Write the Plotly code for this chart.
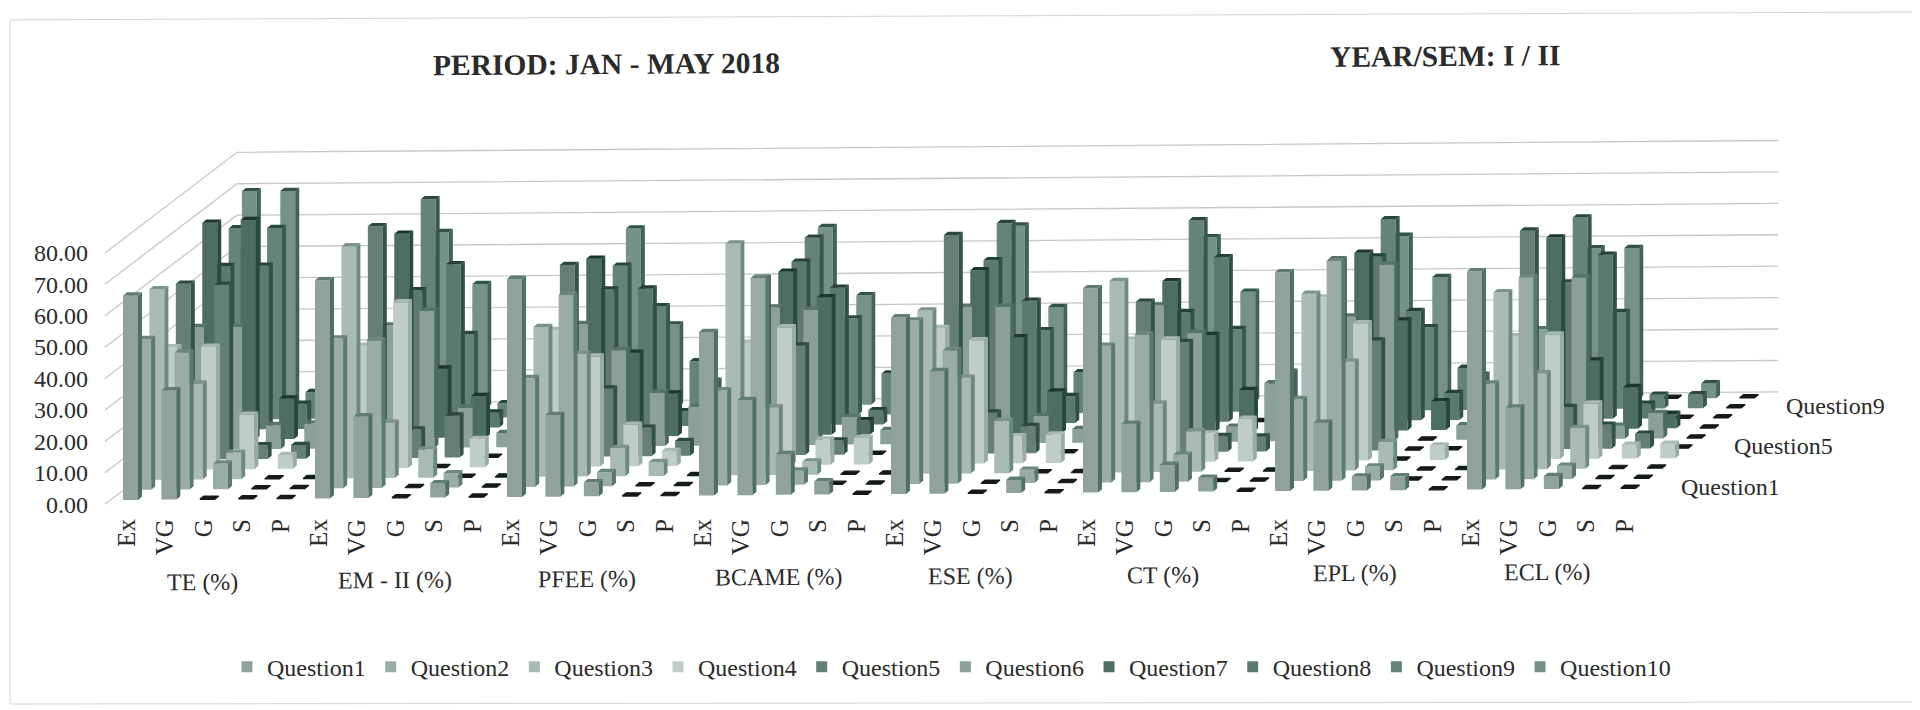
import plotly.graph_objects as go

QUESTIONS = [f"Question{n}" for n in range(1, 11)]
GRADES = ["Ex", "VG", "G", "S", "P"]
SUBJECTS = ["TE (%)", "EM - II (%)", "PFEE (%)", "BCAME (%)", "ESE (%)", "CT (%)", "EPL (%)", "ECL (%)"]
VALUE_TICKS = [0, 10, 20, 30, 40, 50, 60, 70, 80]

# each row: one grade, values for Question1 .. Question10
TE = [[65, 48, 60.6, 39, 56, 39, 69, 52, 60.8, 69.4],
      [34.8, 43.6, 30.5, 39, 55.6, 39, 69.8, 52, 60.8, 69.4],
      [0, 8.2, 8.4, 17.3, 4.4, 7.6, 12.9, 8, 8.5, 8],
      [0, 0, 0, 4.4, 4.4, 8, 4.4, 0, 4.4, 4.4],
      [0, 0, 0, 0, 0, 0, 0, 0, 0, 0]]
EM = [[69.4, 47.7, 73.8, 39, 73.8, 39, 65, 43.8, 69.6, 56],
      [26, 47, 17.6, 52.7, 9, 43.6, 22, 52, 26.6, 39.3],
      [0, 0, 9, 0, 13.4, 12.7, 13.2, 4.7, 4.5, 8],
      [4.5, 4.5, 0, 9, 0, 4.5, 4.4, 0, 4.4, 4.4],
      [0, 0, 0, 0, 0, 0, 0, 0, 0, 0]]
PFEE = [[69.4, 34.6, 47.7, 43.5, 61, 39, 56.6, 43.6, 48, 56.6],
        [26, 61, 39, 35, 21.6, 30.6, 26.6, 43.8, 35, 26],
        [4.5, 4.5, 9, 13.2, 9, 17, 13.5, 4.7, 17.4, 8],
        [0, 0, 4.4, 4.7, 4.7, 12.4, 4.4, 0, 4.4, 4.4],
        [0, 0, 0, 0, 0, 0, 0, 0, 0, 0]]
BCAME = [[52, 30.3, 73.8, 39, 56.4, 43.8, 52, 52, 56.4, 56.6],
         [30.3, 66, 21.6, 43.8, 34.8, 43, 43.8, 43.6, 30.6, 34.8],
         [13, 4.5, 4.2, 8, 4.5, 8.8, 4.5, 4.5, 13, 8],
         [4.2, 0, 0, 8.4, 0, 4.5, 4.4, 0, 4.4, 4.4],
         [0, 0, 0, 0, 0, 0, 0, 0, 0, 0]]
ESE = [[56.2, 52, 52, 43.2, 69.6, 43.5, 52, 52, 60.6, 56.6],
       [39, 42.4, 30.6, 39.2, 13, 43.5, 30.6, 39, 26.4, 30.6],
       [0, 0, 16.7, 8.6, 8.6, 8.6, 13.2, 8.6, 12.9, 8],
       [4.2, 4.2, 0, 9, 0, 4.4, 4.4, 0, 4.4, 4.4],
       [0, 0, 0, 0, 0, 0, 0, 0, 0, 0]]
CT = [[65, 43.5, 60.9, 39, 47.9, 43.5, 48, 35, 61, 52.4],
      [21.8, 47, 21.8, 39, 35, 34.7, 30.8, 52.4, 26.3, 35],
      [8.6, 8.6, 12.9, 9, 5, 4.7, 13.2, 0, 8, 9.4],
      [4.4, 0, 0, 13.6, 4.7, 18.5, 4.4, 0, 4.4, 4.4],
      [0, 0, 0, 0, 0, 0, 0, 0, 0, 0]]
EPL = [[69.6, 26, 56.4, 52, 60.9, 39.5, 56.6, 52.2, 60.9, 52.4],
       [21.6, 70, 34.7, 43.7, 35, 56, 35, 34.8, 26.4, 39.2],
       [4.4, 4.4, 9, 0, 0, 0, 9.2, 8.6, 13.4, 8],
       [4.4, 0, 0, 4.6, 0, 4.6, 4.4, 0, 4.4, 4.4],
       [0, 0, 0, 0, 0, 0, 0, 0, 0, 0]]
ECL = [[69.5, 30.5, 56.4, 39.2, 69.6, 35, 61, 43.5, 61, 48],
       [26, 64.3, 30.5, 39.6, 13.4, 51.4, 21.8, 52.2, 30.8, 48],
       [4.1, 4.2, 13, 17.6, 7.6, 4.1, 13.2, 4.7, 4.4, 0],
       [0, 0, 0, 4.4, 4.7, 8.1, 4.6, 0, 4.4, 4.7],
       [0, 0, 0, 4.6, 0, 0, 0, 0, 0, 0]]
ALL_SUBJECTS = [TE, EM, PFEE, BCAME, ESE, CT, EPL, ECL]

FRONT = ["#8fa29c", "#9aaca6", "#a9b9b4", "#c0ccc8", "#637f76", "#8ba099", "#4d6e64", "#5c7a70", "#64837a", "#75928a"]
SIDE = ["#4f6f66", "#5a7970", "#6b897f", "#98aca5", "#33524a", "#4b6b61", "#294840", "#325248", "#39594f", "#426258"]
TOP = ["#607d74", "#6a867d", "#7b948b", "#a8b8b3", "#2c4941", "#56746b", "#1b362f", "#254237", "#2a473e", "#335248"]
ZERO = "#141a18"

PAGE_W, PAGE_H = 1920, 710
OX, OY = 8, 8                         # the page's own margin round the figure
W, H = PAGE_W - OX, PAGE_H - OY
CAT_PX, VAL_PX = 38.4, 3.16           # pixels per category / per value unit
DX, DY = 0.344, 3.2                   # screen shift per series of depth
TILT, BASE = 0.094, 1.36              # scan tilt, floor offset
BW, BDX, BDY = 0.39, 0.104, 1.05      # bar width, bar depth offset
AX_L, AX_R, AX_B, AX_T = 95, 1900, 516, 100   # plot box on the page


def px(x):
    return (x - OX) / W


def py(y):
    return 1 - (y - OY) / H


def proj(i, k, v):
    return i + DX * k, v + BASE + DY * k + TILT * i


def poly(pts, xs, ys):
    for p in pts + pts[:1]:
        xs.append(p[0])
        ys.append(p[1])
    xs.append(None)
    ys.append(None)


fig = go.Figure()

# walls
gx, gy = [], []
for v in VALUE_TICKS:
    for c in [(-0.324, -0.425), (-0.324, 9.575), (39.81, 9.575)]:
        x, y = proj(c[0], c[1], v)
        gx.append(x)
        gy.append(y)
    gx.append(None)
    gy.append(None)
fig.add_trace(go.Scatter(x=gx, y=gy, mode="lines", line=dict(color="#c6c6c6", width=1.3),
                         hoverinfo="skip", showlegend=False))

for k in range(9, -1, -1):
    f, s, t, z = ([], []), ([], []), ([], []), ([], [])
    for g, rows in enumerate(ALL_SUBJECTS):
        for c, row in enumerate(rows):
            i = g * 5 + c
            v = row[k]
            x0, y0 = proj(i, k, 0)
            x1 = x0 + BW
            top_pts = [(x0, y0 + v), (x0 + BDX, y0 + v + BDY), (x1 + BDX, y0 + v + BDY), (x1, y0 + v)]
            if v == 0:
                poly(top_pts, *z)
                continue
            poly([(x0, y0), (x1, y0), (x1, y0 + v), (x0, y0 + v)], *f)
            poly([(x1, y0), (x1 + BDX, y0 + BDY), (x1 + BDX, y0 + v + BDY), (x1, y0 + v)], *s)
            poly(top_pts, *t)
    for pair, col, lw in ((f, FRONT[k], 0), (s, SIDE[k], 0), (t, TOP[k], 0), (z, ZERO, 1.2)):
        if pair[0]:
            fig.add_trace(go.Scatter(x=pair[0], y=pair[1], mode="lines", fill="toself", fillcolor=col,
                                     line=dict(width=lw, color=col), hoverinfo="skip", showlegend=False))

# legend entries
for k, q in enumerate(QUESTIONS):
    fig.add_trace(go.Scatter(x=[None], y=[None], mode="markers", name=q,
                             marker=dict(symbol="square", size=11, color=FRONT[k])))

FONT = "Liberation Serif"
TEXT = "#2b2b2b"
notes = []
for g, name in enumerate(SUBJECTS):
    notes.append(dict(text=name, x=g * 5 + 2.08, xref="x", y=py(585 - 1.45 * g), yref="paper",
                      xanchor="center", yanchor="middle",
                      showarrow=False, textangle=-0.4, font=dict(family=FONT, size=24, color=TEXT)))
for label, lx, ly in (("Question1", 1679, 490), ("Question5", 1732, 449), ("Question9", 1784, 408)):
    notes.append(dict(text=label, x=px(lx), xref="paper", y=py(ly), yref="paper",
                      xanchor="left", yanchor="middle",
                      showarrow=False, font=dict(family=FONT, size=24, color=TEXT)))
for label, lx, ly in (("PERIOD: JAN - MAY 2018", 606, 64), ("YEAR/SEM: I / II", 1445, 56)):
    notes.append(dict(text=f"<b>{label}</b>", x=px(lx), xref="paper", y=py(ly), yref="paper",
                      xanchor="center", yanchor="middle",
                      showarrow=False, textangle=-0.4, font=dict(family=FONT, size=29.5, color=TEXT)))

tickvals = [g * 5 + c + 0.1 for g in range(len(SUBJECTS)) for c in range(len(GRADES))]
ticktext = GRADES * len(SUBJECTS)

fig.update_layout(
    width=W, height=H, autosize=False, margin=dict(l=0, r=0, t=0, b=0),
    paper_bgcolor="#ffffff", plot_bgcolor="rgba(0,0,0,0)",
    font=dict(family=FONT, size=24, color=TEXT),
    xaxis=dict(domain=[px(AX_L), px(AX_R)], range=[(AX_L - 123) / CAT_PX, (AX_R - 123) / CAT_PX],
               tickmode="array", tickvals=tickvals, ticktext=ticktext, tickangle=-90, showgrid=False,
               zeroline=False, showline=False, ticks="", fixedrange=True, tickfont=dict(size=25)),
    yaxis=dict(domain=[py(AX_B), py(AX_T)], range=[(507 - AX_B) / VAL_PX, (507 - AX_T) / VAL_PX],
               tickmode="array", tickvals=VALUE_TICKS, tickformat=".2f", showgrid=False,
               zeroline=False, showline=False, ticks="", fixedrange=True, ticklabelstandoff=6),
    showlegend=True,
    legend=dict(orientation="h", x=px(227), xanchor="left", y=py(671), yanchor="middle",
                font=dict(family=FONT, size=24, color=TEXT),
                bgcolor="rgba(0,0,0,0)", itemsizing="trace"),
    annotations=notes,
    shapes=[dict(type="path", xref="paper", yref="paper",
                 path=f"M {px(10)} {py(20)} L {px(1915)} {py(12)} L {px(1915)} {py(706)} L {px(10)} {py(708)} Z",
                 line=dict(color="#d4d4d4", width=1))],
)
fig.write_html("out.html")
